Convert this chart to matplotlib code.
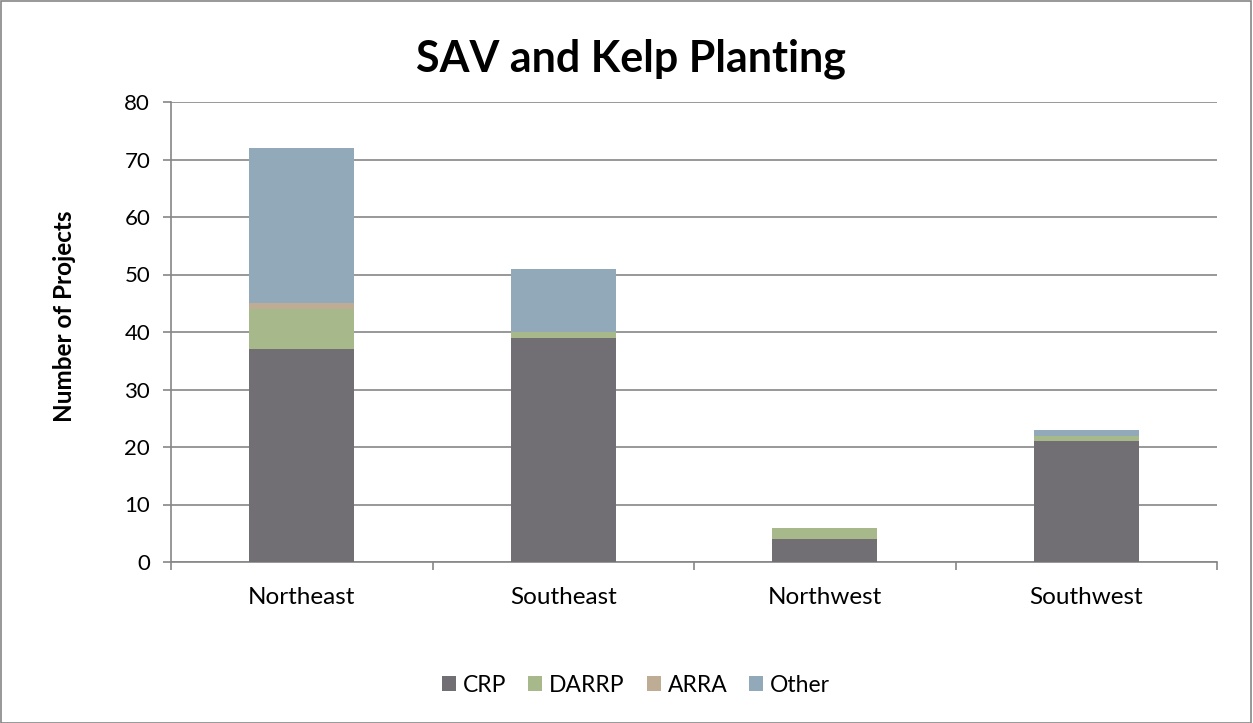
import matplotlib
matplotlib.use("Agg")
import matplotlib.pyplot as plt
import numpy as np

categories = ["Northeast", "Southeast", "Northwest", "Southwest"]
crp = [37, 39, 4, 21]
darrp = [7, 1, 2, 1]
arra = [1, 0, 0, 0]
other = [27, 11, 0, 1]
series_names = ["CRP", "DARRP", "ARRA", "Other"]
colors = ["#716f74", "#a7b88a", "#bfac94", "#91a9b9"]
yticks = [0, 10, 20, 30, 40, 50, 60, 70, 80]

plt.rcParams['font.family'] = ['Lato', 'DejaVu Sans']

fig = plt.figure(figsize=(12.53, 7.23), dpi=100)
ax = fig.add_axes([171/1253, 1-562/723, (1217-171)/1253, (562-102)/723])

x = np.arange(len(categories))
bottom = np.zeros(len(categories))
for name, vals, c in zip(series_names, [crp, darrp, arra, other], colors):
    ax.bar(x, vals, width=0.4, bottom=bottom, color=c, label=name, zorder=3)
    bottom += np.array(vals)

ax.set_xlim(-0.5, len(categories) - 0.5)
ax.set_ylim(0, 80)
ax.set_yticks(yticks)
ax.yaxis.grid(True, color="#868686", linewidth=1.2, zorder=0)
ax.set_axisbelow(True)
for s in ["top", "right"]:
    ax.spines[s].set_visible(False)
ax.spines["left"].set_color("#868686")
ax.spines["bottom"].set_color("#868686")
ax.spines["left"].set_linewidth(1.2)
ax.spines["bottom"].set_linewidth(1.2)

ax.set_xticks(x)
ax.set_xticklabels(categories, fontsize=17.5)
ax.tick_params(axis="x", length=0, pad=18)
ax.set_xticks(np.arange(-0.5, len(categories)), minor=True)
ax.tick_params(axis="x", which="minor", length=6, color="#868686", width=1.2)
ax.tick_params(axis="y", labelsize=16, length=6, color="#868686", width=1.2, pad=9)

fig.text(64/1253, 1-316/723, "Number of Projects", rotation=90, ha="center", va="center",
         fontsize=17.5, fontweight="bold")
fig.text(631/1253, 1-59/723, "SAV and Kelp Planting", ha="center", va="center",
         fontsize=31, fontweight="bold")

fig.legend(loc="center", bbox_to_anchor=(636/1253, 1-685/723), ncol=4, frameon=False,
           fontsize=16.5, handlelength=0.62, handleheight=0.62, columnspacing=0.95, handletextpad=0.3)

border = plt.Rectangle((0.0005, 0.0005), 0.998, 0.998, transform=fig.transFigure,
                       fill=False, edgecolor="#868686", linewidth=1.2)
fig.add_artist(border)

fig.savefig("out.png", dpi=100)
